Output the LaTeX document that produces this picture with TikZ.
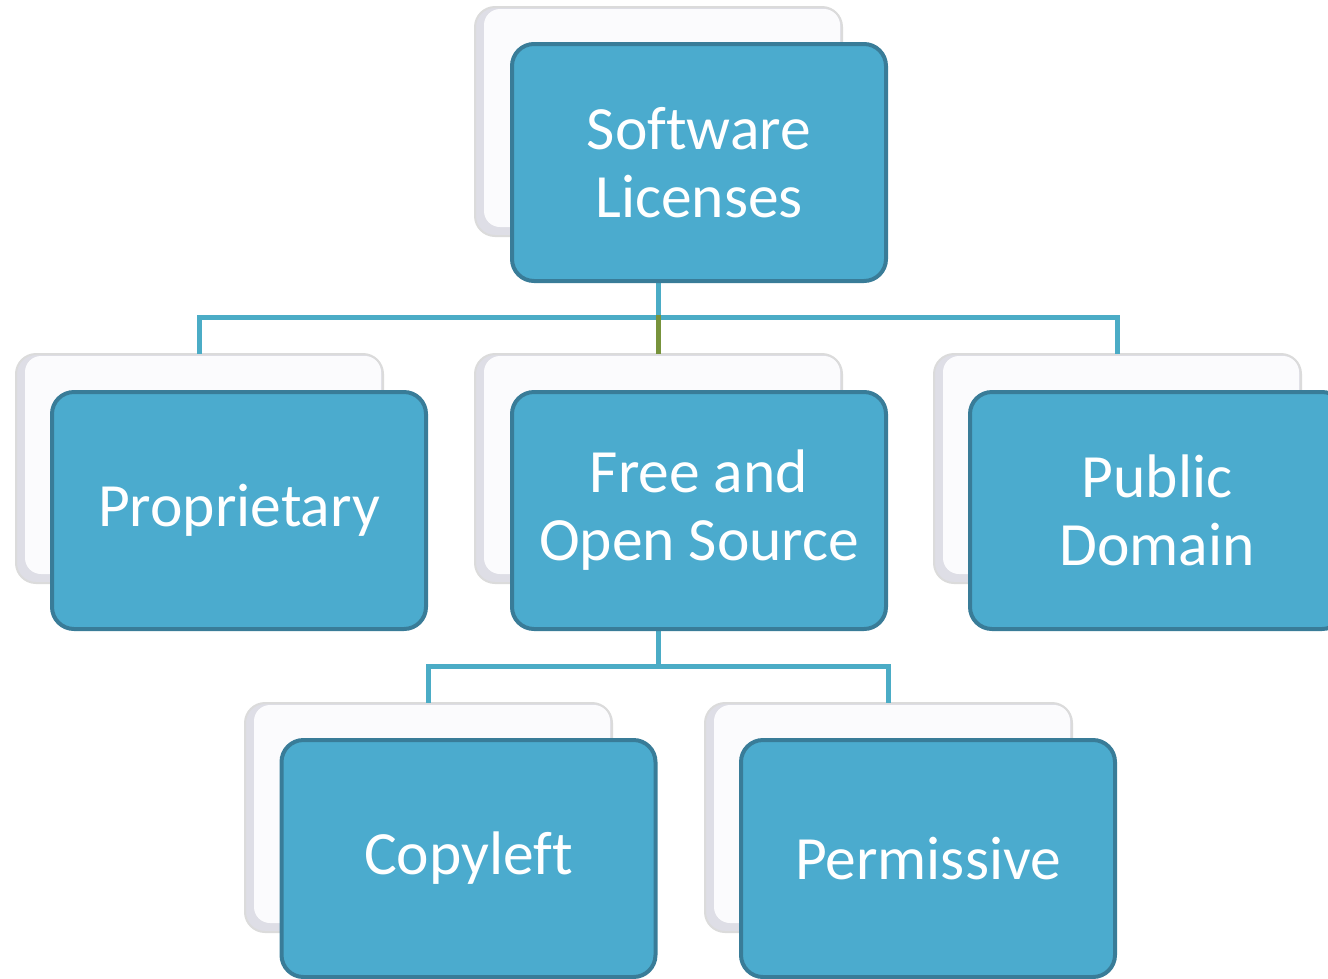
\documentclass[tikz,border=0pt]{standalone}
\usepackage{fontspec}
\setmainfont{Carlito}[Ligatures={NoCommon}]
\definecolor{boxfill}{RGB}{75,171,206}
\definecolor{boxline}{RGB}{57,124,152}
\definecolor{linkblue}{RGB}{75,172,198}
\definecolor{linkgreen}{RGB}{119,147,60}
\definecolor{cardbase}{RGB}{222,222,230}
\definecolor{cardtop}{RGB}{251,251,253}
\begin{document}
\begin{tikzpicture}[x=1pt,y=-1pt,inner sep=0pt,outer sep=0pt,
card/.style={draw=black!14,line width=2pt,fill=cardbase,rounded corners=20pt,
  minimum width=367pt,minimum height=229pt,
  path picture={\fill[cardtop,rounded corners=16pt]
    ([xshift=9pt,yshift=9pt]path picture bounding box.south west) rectangle
    ([xshift=-2pt,yshift=-2pt]path picture bounding box.north east);}},
licbox/.style={draw=boxline,line width=4pt,fill=boxfill,rounded corners=22pt,
  minimum width=374pt,minimum height=237pt,align=center,text=white,
  font=\fontsize{61.5}{68}\selectfont},
link/.style={draw=linkblue,line width=5pt},
linkg/.style={draw=linkgreen,line width=5pt}]

\useasboundingbox (0,0) rectangle (1328,978);

% back cards
\draw (658.5,121.5) node[card] (cardTop) {};
\draw (199.5,468.5) node[card] (cardProp) {};
\draw (658.5,468.5) node[card] (cardFoss) {};
\draw (1117.5,468.5) node[card] (cardPub) {};
\draw (428.5,817.5) node[card] (cardCopy) {};
\draw (888.5,817.5) node[card] (cardPerm) {};

% connectors
\draw[link] (cardTop.south) -- ++(0,81) -| (cardProp.north);
\draw[link] (cardTop.south) -- ++(0,81) -| (cardPub.north);
\draw[linkg] (cardTop.south) ++(0,79) -- (cardFoss.north);
\draw[link] (cardFoss.south) -- ++(0,83) -| (cardCopy.north);
\draw[link] (cardFoss.south) -- ++(0,83) -| (cardPerm.north);

% front boxes
\draw (699,162.5) node[licbox] (top) {Software\\Licenses};
\draw (239,510.5) node[licbox] (prop) {Proprietary};
\draw (699,510.5) node[licbox] (foss) {Free and\\Open Source};
\draw (1157,510.5) node[licbox] (pub) {Public\\Domain};
\draw (468.5,858.5) node[licbox] (copy) {Copyleft};
\draw (928,858.5) node[licbox] (perm) {Permissive};
\end{tikzpicture}
\end{document}
